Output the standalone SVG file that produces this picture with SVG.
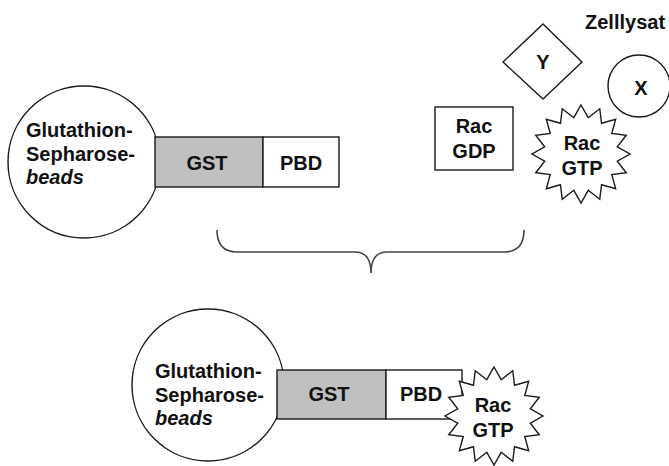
<svg xmlns="http://www.w3.org/2000/svg" xmlns:xlink="http://www.w3.org/1999/xlink" width="669" height="466" viewBox="0 0 669 466">
<style>
.sh{fill:#fff;stroke:#1a1a1a;stroke-width:1.4}
.gst{fill:#c0c0c0;stroke:#1a1a1a;stroke-width:1.4}
.t{font-family:"Liberation Sans",Arial,sans-serif;font-weight:bold;font-size:20px;fill:#111}
.c{text-anchor:middle}
.it{font-style:italic}
.br{fill:none;stroke:#444;stroke-width:1.6}
</style>
<defs>
<polygon id="star" points="0,-49 7.22,-36.29 18.75,-45.27 20.56,-30.76 34.65,-34.65 30.76,-20.56 45.27,-18.75 36.29,-7.22 49,0 36.29,7.22 45.27,18.75 30.76,20.56 34.65,34.65 20.56,30.76 18.75,45.27 7.22,36.29 0,49 -7.22,36.29 -18.75,45.27 -20.56,30.76 -34.65,34.65 -30.76,20.56 -45.27,18.75 -36.29,7.22 -49,0 -36.29,-7.22 -45.27,-18.75 -30.76,-20.56 -34.65,-34.65 -20.56,-30.76 -18.75,-45.27 -7.22,-36.29"/>
</defs>
<rect width="669" height="466" fill="#fff"/>

<g id="bead-top">
<circle class="sh" cx="84" cy="162" r="76"/>
<text class="t" x="26" y="137">Glutathion-</text>
<text class="t" x="26" y="161">Sepharose-</text>
<text class="t it" x="26" y="184">beads</text>
</g>
<g id="gst-top">
<rect class="gst" x="155" y="137" width="108" height="50"/>
<text class="t c" x="207" y="170">GST</text>
</g>
<g id="pbd-top">
<rect class="sh" x="263" y="137" width="76" height="50"/>
<text class="t c" x="301" y="170">PBD</text>
</g>

<g id="zelllysat">
<text class="t" x="585" y="29">Zelllysat</text>
</g>
<g id="y">
<polygon class="sh" points="543,24 582,62 543,99 503,62"/>
<text class="t c" x="543" y="69">Y</text>
</g>
<g id="x">
<circle class="sh" cx="639" cy="86" r="31"/>
<text class="t c" x="641" y="95">X</text>
</g>
<g id="rac-gdp">
<rect class="sh" x="435" y="107" width="78" height="63"/>
<text class="t c" x="474" y="133">Rac</text>
<text class="t c" x="474" y="158">GDP</text>
</g>
<g id="rac-gtp-top">
<use xlink:href="#star" href="#star" class="sh" transform="translate(581,154)"/>
<text class="t c" x="582" y="150">Rac</text>
<text class="t c" x="582" y="175">GTP</text>
</g>

<g id="connectors">
<path class="br" d="M217,230 Q217,252 237,252 L355,252 Q371,252 371,273 Q371,252 387,252 L504,252 Q524,252 524,230"/>
</g>

<g id="bead-bottom">
<circle class="sh" cx="208" cy="385" r="76"/>
<text class="t" x="155" y="378">Glutathion-</text>
<text class="t" x="155" y="402">Sepharose-</text>
<text class="t it" x="155" y="425">beads</text>
</g>
<g id="gst-bottom">
<rect class="gst" x="277" y="370" width="109" height="49"/>
<text class="t c" x="329" y="401">GST</text>
</g>
<g id="pbd-bottom">
<rect class="sh" x="386" y="370" width="76" height="49"/>
<text class="t c" x="421" y="401">PBD</text>
</g>
<g id="rac-gtp-bottom">
<use xlink:href="#star" href="#star" class="sh" transform="translate(494,416)"/>
<text class="t c" x="493" y="412">Rac</text>
<text class="t c" x="493" y="437">GTP</text>
</g>
</svg>
